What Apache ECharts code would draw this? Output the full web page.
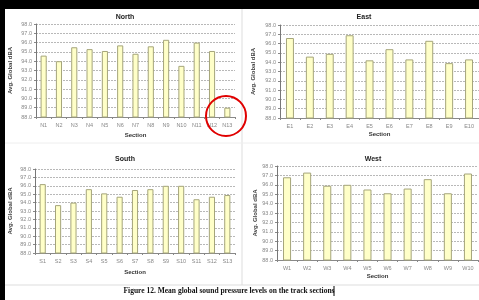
<!DOCTYPE html>
<html><head><meta charset="utf-8">
<script src="https://cdn.jsdelivr.net/npm/echarts@6/dist/echarts.min.js"></script>
<style>html,body{margin:0;padding:0;background:#fff}#c{width:479px;height:300px;filter:blur(0.35px)}</style>
</head><body><div id="c"></div>
<script>
const northCats = ['N1','N2','N3','N4','N5','N6','N7','N8','N9','N10','N11','N12','N13'];
const northVals = [94.6,94.0,95.5,95.3,95.1,95.7,94.8,95.6,96.3,93.5,96.0,95.1,89.0];
const eastCats = ['E1','E2','E3','E4','E5','E6','E7','E8','E9','E10'];
const eastVals = [96.6,94.6,94.9,96.9,94.2,95.4,94.3,96.3,93.9,94.3];
const southCats = ['S1','S2','S3','S4','S5','S6','S7','S8','S9','S10','S11','S12','S13'];
const southVals = [96.2,93.7,94.0,95.6,95.1,94.7,95.5,95.6,96.0,96.0,94.4,94.7,94.9];
const westCats = ['W1','W2','W3','W4','W5','W6','W7','W8','W9','W10'];
const westVals = [96.8,97.3,95.9,96.0,95.5,95.1,95.6,96.6,95.1,97.2];
const panelTitles = ['North','East','South','West'];
const yMin = 88, yMax = 98, yStep = 1;
const yTitle = 'Avg. Global dBA';
const xTitle = 'Section';
const caption = 'Figure 12. Mean global sound pressure levels on the track sections';

const panels = [
  {cats: northCats, vals: northVals, grid: {left: 36, top: 24, width: 199, height: 93}, tx: 120, ty: 9, yGap: 23, xGap: 15},
  {cats: eastCats, vals: eastVals, grid: {left: 280, top: 25, width: 199, height: 93}, tx: 359, ty: 9, yGap: 24, xGap: 13},
  {cats: southCats, vals: southVals, grid: {left: 35, top: 169, width: 200, height: 84}, tx: 120, ty: 151, yGap: 22, xGap: 16},
  {cats: westCats, vals: westVals, grid: {left: 277, top: 166, width: 201, height: 94}, tx: 368, ty: 151, yGap: 18, xGap: 13}
];
const font = 'Liberation Sans, Arial, sans-serif';
const option = {
  animation: false,
  backgroundColor: '#fff',
  title: panels.map((p, i) => ({text: panelTitles[i], left: p.tx, top: p.ty, textAlign: 'center',
    textStyle: {fontSize: 7, fontWeight: 'bold', color: '#222', fontFamily: font}})),
  grid: panels.map(p => Object.assign({containLabel: false}, p.grid)),
  xAxis: panels.map((p, i) => ({type: 'category', gridIndex: i, data: p.cats,
    name: xTitle, nameLocation: 'middle', nameGap: p.xGap,
    nameTextStyle: {fontSize: 6, fontWeight: 'bold', color: '#333', fontFamily: font},
    axisLine: {lineStyle: {color: '#888', width: 1}},
    axisTick: {show: true, length: 2, lineStyle: {color: '#888'}},
    axisLabel: {fontSize: 5.5, color: '#888', margin: 5, interval: 0, fontFamily: font},
    splitLine: {show: false}})),
  yAxis: panels.map((p, i) => ({type: 'value', gridIndex: i, min: yMin, max: yMax, interval: yStep,
    name: yTitle, nameLocation: 'middle', nameGap: p.yGap, nameRotate: 90,
    nameTextStyle: {fontSize: 6, fontWeight: 'bold', color: '#444', fontFamily: font},
    axisLine: {show: true, lineStyle: {color: '#777', width: 1}},
    axisTick: {show: true, length: 2, lineStyle: {color: '#888'}},
    axisLabel: {fontSize: 5.5, color: '#888', margin: 4, fontFamily: font, formatter: v => v.toFixed(1)},
    splitLine: {show: true, lineStyle: {color: '#b8b8b8', width: 1, type: [2, 1]}}})),
  series: panels.map((p, i) => ({type: 'bar', xAxisIndex: i, yAxisIndex: i, data: p.vals,
    barWidth: '40%', itemStyle: {color: '#ffffc8', borderColor: '#a5a57a', borderWidth: 1}})),
  graphic: [
    {type: 'rect', shape: {x: 0, y: 0, width: 479, height: 9}, style: {fill: '#000'}, z: 100},
    {type: 'rect', shape: {x: 0, y: 0, width: 5, height: 300}, style: {fill: '#000'}, z: 100},
    {type: 'line', shape: {x1: 242, y1: 9, x2: 242, y2: 285}, style: {stroke: '#ddd', lineWidth: 1}},
    {type: 'line', shape: {x1: 5, y1: 285, x2: 479, y2: 285}, style: {stroke: '#ddd', lineWidth: 1}},
    {type: 'line', shape: {x1: 5, y1: 143, x2: 479, y2: 143}, style: {stroke: '#eee', lineWidth: 1}},
    {type: 'circle', shape: {cx: 226, cy: 116, r: 20}, style: {fill: 'none', stroke: '#e00000', lineWidth: 2}, z: 50},
    {type: 'text', x: 229, y: 291, style: {text: caption, font: 'bold 7.5px "Liberation Serif", "Times New Roman", serif',
      fill: '#111', align: 'center', verticalAlign: 'middle'}, z: 50},
    {type: 'line', shape: {x1: 334, y1: 286, x2: 334, y2: 296}, style: {stroke: '#000', lineWidth: 1}, z: 50}
  ]
};
const chart = echarts.init(document.getElementById('c'), null, {renderer: 'canvas'});
chart.setOption(option);
</script></body></html>
